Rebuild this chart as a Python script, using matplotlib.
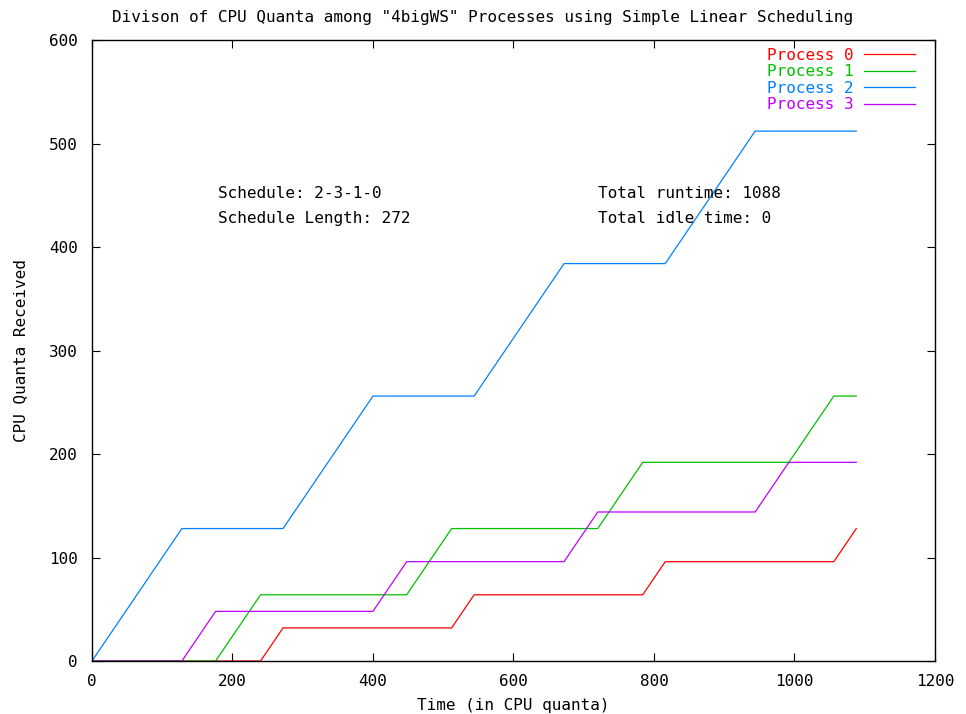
import matplotlib.pyplot as plt

# Pontos de quebra (tempo, quanta acumulados) de cada processo
time_p0 = [0, 240, 272, 512, 544, 784, 816, 1056, 1088]
quanta_p0 = [0, 0, 32, 32, 64, 64, 96, 96, 128]

time_p1 = [0, 176, 240, 448, 512, 720, 784, 992, 1056, 1088]
quanta_p1 = [0, 0, 64, 64, 128, 128, 192, 192, 256, 256]

time_p2 = [0, 128, 272, 400, 544, 672, 816, 944, 1088]
quanta_p2 = [0, 128, 128, 256, 256, 384, 384, 512, 512]

time_p3 = [0, 128, 176, 400, 448, 672, 720, 944, 992, 1088]
quanta_p3 = [0, 0, 48, 48, 96, 96, 144, 144, 192, 192]

labels = ['Process 0', 'Process 1', 'Process 2', 'Process 3']
colors = ['#ff0000', '#00c000', '#0080ff', '#c000ff']

x_ticks = [0, 200, 400, 600, 800, 1000, 1200]
y_ticks = [0, 100, 200, 300, 400, 500, 600]

plt.rcParams['font.family'] = 'DejaVu Sans Mono'
plt.rcParams['font.size'] = 11.5

fig = plt.figure(figsize=(9.66, 7.14), dpi=100)
ax = fig.add_axes([0.0952, 0.0742, 0.8727, 0.8697])

series = [(time_p0, quanta_p0), (time_p1, quanta_p1),
          (time_p2, quanta_p2), (time_p3, quanta_p3)]
for (t, q), lab, c in zip(series, labels, colors):
    ax.plot(t, q, color=c, linewidth=0.9, label=lab)

ax.set_xlim(0, 1200)
ax.set_ylim(0, 600)
ax.set_xticks(x_ticks)
ax.set_yticks(y_ticks)
ax.tick_params(direction='in', length=5.5, width=0.8, top=True, right=True)
ax.tick_params(axis='x', pad=9)
ax.tick_params(axis='y', pad=10)
for s in ax.spines.values():
    s.set_linewidth(1.0)

# Textos com informacoes do escalonamento
ax.text(180, 452, 'Schedule: 2-3-1-0', va='center')
ax.text(180, 428, 'Schedule Length: 272', va='center')
ax.text(720, 452, 'Total runtime: 1088', va='center')
ax.text(720, 428, 'Total idle time: 0', va='center')

ax.set_xlabel('Time (in CPU quanta)', labelpad=7)
ax.set_ylabel('CPU Quanta Received', labelpad=15)
fig.text(0.5, 0.975, 'Divison of CPU Quanta among "4bigWS" Processes using Simple Linear Scheduling',
         ha='center', va='center')

ax.legend(loc='upper right', bbox_to_anchor=(0.976, 0.988), markerfirst=False, frameon=False,
          labelcolor='linecolor', handlelength=3.2, handletextpad=0.6,
          labelspacing=0.1, borderpad=0, borderaxespad=0)

plt.savefig('out.png', dpi=100)
